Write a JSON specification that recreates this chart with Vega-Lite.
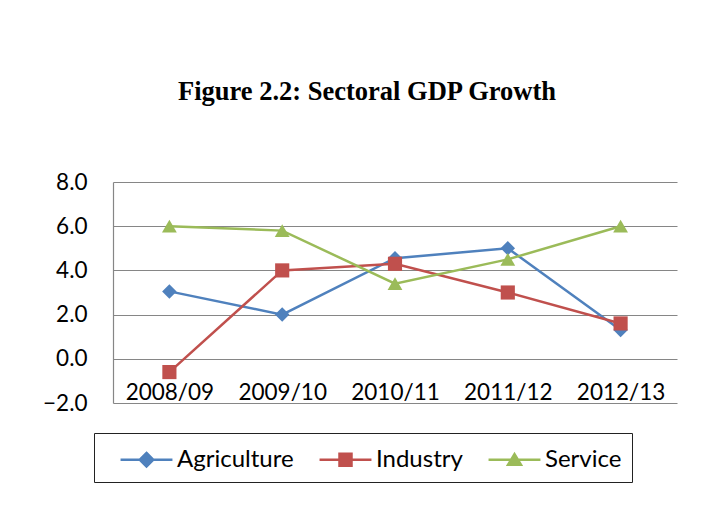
{
  "$schema": "https://vega.github.io/schema/vega-lite/v6.json",
  "width": 564,
  "height": 221,
  "autosize": "none",
  "padding": {"left": 113, "top": 182, "right": 37, "bottom": 120},
  "background": "white",
  "config": {
    "view": {"stroke": null},
    "font": "Lato"
  },
  "title": {
    "text": "Figure 2.2: Sectoral GDP Growth",
    "font": "Liberation Serif",
    "fontSize": 26.5,
    "fontWeight": "bold",
    "color": "black",
    "anchor": "middle",
    "baseline": "alphabetic",
    "dx": -28,
    "offset": 45
  },
  "data": {
    "values": [
      {"year": "2008/09", "sector": "Agriculture", "growth": 3.05},
      {"year": "2009/10", "sector": "Agriculture", "growth": 2.0},
      {"year": "2010/11", "sector": "Agriculture", "growth": 4.55},
      {"year": "2011/12", "sector": "Agriculture", "growth": 5.0},
      {"year": "2012/13", "sector": "Agriculture", "growth": 1.3},
      {"year": "2008/09", "sector": "Industry", "growth": -0.6},
      {"year": "2009/10", "sector": "Industry", "growth": 4.0},
      {"year": "2010/11", "sector": "Industry", "growth": 4.3},
      {"year": "2011/12", "sector": "Industry", "growth": 3.0},
      {"year": "2012/13", "sector": "Industry", "growth": 1.6},
      {"year": "2008/09", "sector": "Service", "growth": 6.0},
      {"year": "2009/10", "sector": "Service", "growth": 5.8},
      {"year": "2010/11", "sector": "Service", "growth": 3.4},
      {"year": "2011/12", "sector": "Service", "growth": 4.5},
      {"year": "2012/13", "sector": "Service", "growth": 6.0}
    ]
  },
  "encoding": {
    "x": {
      "field": "year",
      "type": "ordinal",
      "scale": {"type": "point", "padding": 0.5},
      "axis": {
        "title": null,
        "labelAngle": 0,
        "domain": false,
        "ticks": false,
        "grid": false,
        "offset": -44,
        "labelPadding": 22,
        "labelFont": "Lato",
        "labelFontSize": 22.5,
        "labelColor": "black"
      }
    },
    "y": {
      "field": "growth",
      "type": "quantitative",
      "scale": {"domain": [-2, 8], "nice": false, "zero": false},
      "axis": {
        "title": null,
        "values": [-2, 0, 2, 4, 6, 8],
        "format": ".1f",
        "ticks": false,
        "domainColor": "#868686",
        "domainWidth": 1.2,
        "gridColor": "#868686",
        "gridWidth": 1.2,
        "gridOpacity": 1,
        "labelPadding": 26,
        "labelFont": "Lato",
        "labelFontSize": 22.5,
        "labelColor": "black"
      }
    },
    "color": {
      "field": "sector",
      "type": "nominal",
      "scale": {"domain": ["Agriculture", "Industry", "Service"], "range": ["#4F81BD", "#C0504D", "#9BBB59"]},
      "legend": {
        "title": null,
        "orient": "none",
        "direction": "horizontal",
        "legendX": -19,
        "legendY": 251,
        "strokeColor": "#222222",
        "padding": 10,
        "symbolSize": 900,
        "symbolOffset": 26,
        "labelFont": "Lato",
        "labelFontSize": 24,
        "labelColor": "black",
        "labelOffset": 14,
        "columnPadding": 9,
        "encode": {
          "symbols": {
            "update": {
              "shape": {"signal": "datum.value === 'Agriculture' ? 'M-1.73,0H1.73M0,-0.45L0.45,0L0,0.45L-0.45,0Z' : datum.value === 'Industry' ? 'M-1.73,0H1.73M-0.4,-0.4H0.4V0.4H-0.4Z' : 'M-1.73,0H1.73M0,-0.37L0.43,0.33L-0.43,0.33Z'"},
              "stroke": {"signal": "scale('color', datum.value)"},
              "strokeWidth": {"value": 2.5},
              "fill": {"signal": "scale('color', datum.value)"},
              "opacity": {"value": 1}
            }
          }
        }
      }
    }
  },
  "layer": [
    {
      "mark": {"type": "line", "strokeWidth": 2.5}
    },
    {
      "transform": [{"filter": "datum.sector === 'Agriculture'"}],
      "mark": {"type": "point", "shape": "diamond", "filled": true, "opacity": 1, "size": 210, "strokeWidth": 0}
    },
    {
      "transform": [{"filter": "datum.sector === 'Industry'"}],
      "mark": {"type": "point", "shape": "square", "filled": true, "opacity": 1, "size": 200, "strokeWidth": 0}
    },
    {
      "transform": [{"filter": "datum.sector === 'Service'"}],
      "mark": {"type": "point", "shape": "triangle-up", "filled": true, "opacity": 1, "size": 220, "strokeWidth": 0}
    }
  ]
}
